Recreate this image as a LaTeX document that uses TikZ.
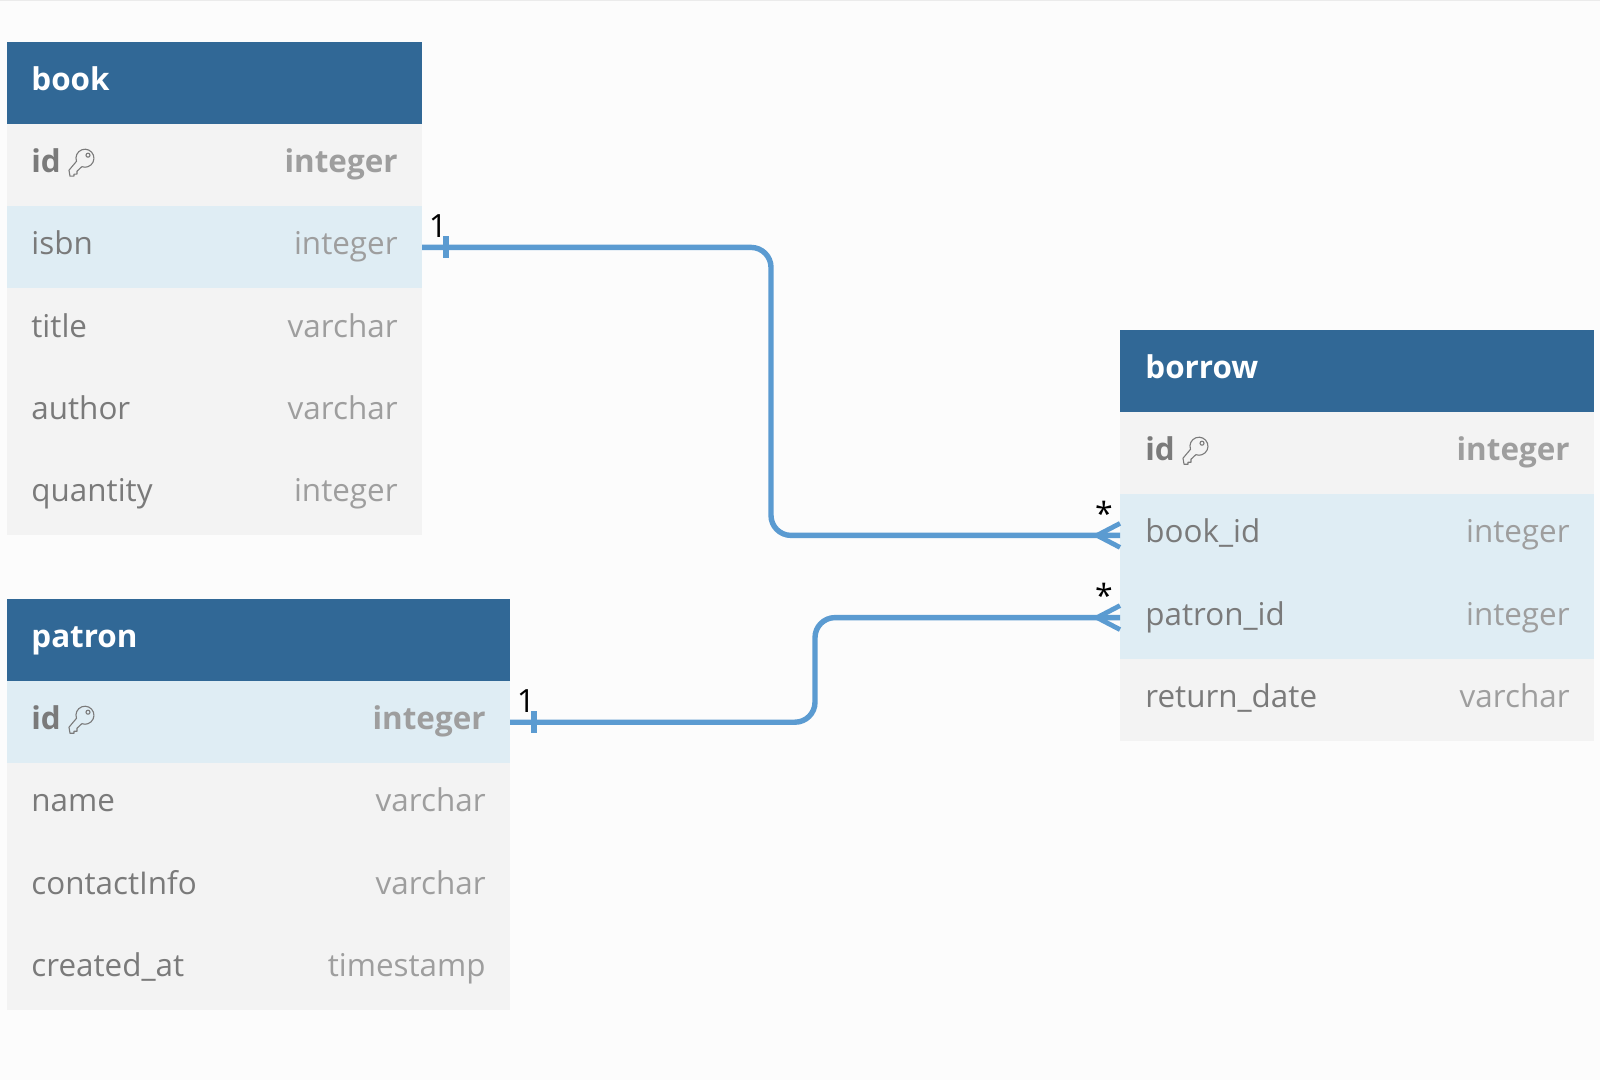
\documentclass[tikz,border=0pt]{standalone}
\usepackage{fontspec}
\setmainfont{Open Sans}
\usetikzlibrary{calc,positioning}
\definecolor{erblue}{HTML}{316896}
\definecolor{errowgray}{HTML}{F3F3F3}
\definecolor{errowblue}{HTML}{DFEDF4}
\definecolor{erline}{HTML}{5B9BD1}
\definecolor{erfieldtext}{HTML}{7A7A7A}
\definecolor{ertypetext}{HTML}{9E9E9E}
\tikzstyle{erhead}=[
  fill=erblue,inner sep=0pt,outer sep=0pt,minimum height=41.1pt
]
\tikzstyle{errow}=[
  fill=errowgray,inner sep=0pt,outer sep=0pt,minimum height=41.1pt
]
\tikzstyle{errowref}=[
  errow,fill=errowblue
]
\tikzstyle{ertitle}=[
  anchor=base west,inner sep=0pt,text=white,font=\fontsize{15.7}{18}\selectfont\bfseries
]
\tikzstyle{erfield}=[
  anchor=base west,inner sep=0pt,text=erfieldtext,font=\fontsize{15.7}{18}\selectfont
]
\tikzstyle{ertype}=[
  anchor=base east,inner sep=0pt,text=ertypetext,font=\fontsize{15.7}{18}\selectfont
]
\tikzstyle{erlabel}=[
  inner sep=0pt,text=black,font=\fontsize{16}{16}\selectfont
]
\tikzstyle{erlink}=[
  draw=erline,line width=2.7pt,rounded corners=10pt
]
\tikzstyle{erfoot}=[
  draw=erline,line width=2.4pt
]
\tikzstyle{ertick}=[
  draw=erline,line width=2.9pt
]
\tikzset{
  keyicon/.pic={
    \draw [erfieldtext,line width=0.55pt,line join=round]
      (-8.5,3.1) arc [start angle=160,end angle=470,radius=9]
      -- (-8,13) -- (-8,16) -- (-11,16) -- (-11,18) -- (-15,18) -- (-16,12) -- cycle;
    \draw [erfieldtext,line width=0.55pt] (3,-3) circle [radius=2];
  }
}
\begin{document}
\begin{tikzpicture}[x=0.5pt,y=-0.5pt]
  \useasboundingbox (0,0) rectangle (1600,1080);
  \fill [black!1] (0,0) rectangle (1600,1080);
  \draw [black!8,line width=0.5pt] (0,0.5) -- (1600,0.5);

  % book
  \begin{scope}[every node/.append style={minimum width=207.5pt}]
    \node (book) at (214.5,83) [erhead] {};
    \node (bookid) [errow,below=0pt of book] {};
    \node (bookisbn) [errowref,below=0pt of bookid] {};
    \node (booktitle) [errow,below=0pt of bookisbn] {};
    \node (bookauthor) [errow,below=0pt of booktitle] {};
    \node (bookqty) [errow,below=0pt of bookauthor] {};
  \end{scope}
  \node (booklbl) at ($(book.west) + (24,8)$) [ertitle] {book};
  \node (bookidf) at ($(bookid.west) + (24,7.5)$) [erfield,font=\fontsize{15.7}{18}\selectfont\bfseries] {id};
  \node (bookidt) at ($(bookid.east) + (-24,7.5)$) [ertype,font=\fontsize{15.7}{18}\selectfont\bfseries] {integer};
  \node (bookisbnf) at ($(bookisbn.west) + (24,7.5)$) [erfield] {isbn};
  \node (bookisbnt) at ($(bookisbn.east) + (-24,7.5)$) [ertype] {integer};
  \node (booktitlef) at ($(booktitle.west) + (24,7.5)$) [erfield] {title};
  \node (booktitlet) at ($(booktitle.east) + (-24,7.5)$) [ertype] {varchar};
  \node (bookauthorf) at ($(bookauthor.west) + (24,7.5)$) [erfield] {author};
  \node (bookauthort) at ($(bookauthor.east) + (-24,7.5)$) [ertype] {varchar};
  \node (bookqtyf) at ($(bookqty.west) + (24,7.5)$) [erfield] {quantity};
  \node (bookqtyt) at ($(bookqty.east) + (-24,7.5)$) [ertype] {integer};
  \pic at ($(bookid.west) + (78,-7)$) {keyicon};

  % patron
  \begin{scope}[every node/.append style={minimum width=251.5pt}]
    \node (patron) at (258.5,640) [erhead] {};
    \node (patronid) [errowref,below=0pt of patron] {};
    \node (patronname) [errow,below=0pt of patronid] {};
    \node (patroninfo) [errow,below=0pt of patronname] {};
    \node (patroncreated) [errow,below=0pt of patroninfo] {};
  \end{scope}
  \node (patronlbl) at ($(patron.west) + (24,7)$) [ertitle] {patron};
  \node (patronidf) at ($(patronid.west) + (24,7.5)$) [erfield,font=\fontsize{15.7}{18}\selectfont\bfseries] {id};
  \node (patronidt) at ($(patronid.east) + (-24,7.5)$) [ertype,font=\fontsize{15.7}{18}\selectfont\bfseries] {integer};
  \node (patronnamef) at ($(patronname.west) + (24,7.5)$) [erfield] {name};
  \node (patronnamet) at ($(patronname.east) + (-24,7.5)$) [ertype] {varchar};
  \node (patroninfof) at ($(patroninfo.west) + (24,7.5)$) [erfield] {contactInfo};
  \node (patroninfot) at ($(patroninfo.east) + (-24,7.5)$) [ertype] {varchar};
  \node (patroncreatedf) at ($(patroncreated.west) + (24,7.5)$) [erfield] {created\_at};
  \node (patroncreatedt) at ($(patroncreated.east) + (-24,7.5)$) [ertype] {timestamp};
  \pic at ($(patronid.west) + (78,-7)$) {keyicon};

  % borrow
  \begin{scope}[every node/.append style={minimum width=237pt}]
    \node (borrow) at (1357,371) [erhead] {};
    \node (borrowid) [errow,below=0pt of borrow] {};
    \node (borrowbook) [errowref,below=0pt of borrowid] {};
    \node (borrowpatron) [errowref,below=0pt of borrowbook] {};
    \node (borrowdate) [errow,below=0pt of borrowpatron] {};
  \end{scope}
  \node (borrowlbl) at ($(borrow.west) + (25,8)$) [ertitle] {borrow};
  \node (borrowidf) at ($(borrowid.west) + (25,7.5)$) [erfield,font=\fontsize{15.7}{18}\selectfont\bfseries] {id};
  \node (borrowidt) at ($(borrowid.east) + (-24,7.5)$) [ertype,font=\fontsize{15.7}{18}\selectfont\bfseries] {integer};
  \node (borrowbookf) at ($(borrowbook.west) + (25,7.5)$) [erfield] {book\_id};
  \node (borrowbookt) at ($(borrowbook.east) + (-24,7.5)$) [ertype] {integer};
  \node (borrowpatronf) at ($(borrowpatron.west) + (25,7.5)$) [erfield] {patron\_id};
  \node (borrowpatront) at ($(borrowpatron.east) + (-24,7.5)$) [ertype] {integer};
  \node (borrowdatef) at ($(borrowdate.west) + (25,7.5)$) [erfield] {return\_date};
  \node (borrowdatet) at ($(borrowdate.east) + (-24,7.5)$) [ertype] {varchar};
  \pic at ($(borrowid.west) + (79,-7)$) {keyicon};

  % links
  \coordinate (bend1) at (771,0);
  \coordinate (bend2) at (815,0);
  \draw [erlink] (bookisbn.east) -- (bookisbn.east -| bend1) -- (bend1 |- borrowbook.west) -- (borrowbook.west);
  \draw [erlink] (patronid.east) -- (patronid.east -| bend2) -- (bend2 |- borrowpatron.west) -- (borrowpatron.west);

  % ticks and feet
  \coordinate (tick1) at ($(bookisbn.east) + (24,0)$);
  \coordinate (tick2) at ($(patronid.east) + (24,0)$);
  \draw [ertick] ($(tick1) + (0,-11)$) -- ($(tick1) + (0,11)$);
  \draw [ertick] ($(tick2) + (0,-11)$) -- ($(tick2) + (0,11)$);
  \coordinate (foot1) at ($(borrowbook.west) + (-23,0)$);
  \coordinate (foot2) at ($(borrowpatron.west) + (-23,0)$);
  \draw [erfoot] (foot1) -- ($(borrowbook.west) + (0,-12)$);
  \draw [erfoot] (foot1) -- ($(borrowbook.west) + (0,12)$);
  \draw [erfoot] (foot2) -- ($(borrowpatron.west) + (0,-12)$);
  \draw [erfoot] (foot2) -- ($(borrowpatron.west) + (0,12)$);

  \node (one1) at ($(tick1) + (-8,-21)$) [erlabel] {1};
  \node (one2) at ($(tick2) + (-8,-21)$) [erlabel] {1};
  \node (many1) at ($(foot1) + (7,-22)$) [erlabel] {*};
  \node (many2) at ($(foot2) + (7,-22)$) [erlabel] {*};
\end{tikzpicture}
\end{document}
